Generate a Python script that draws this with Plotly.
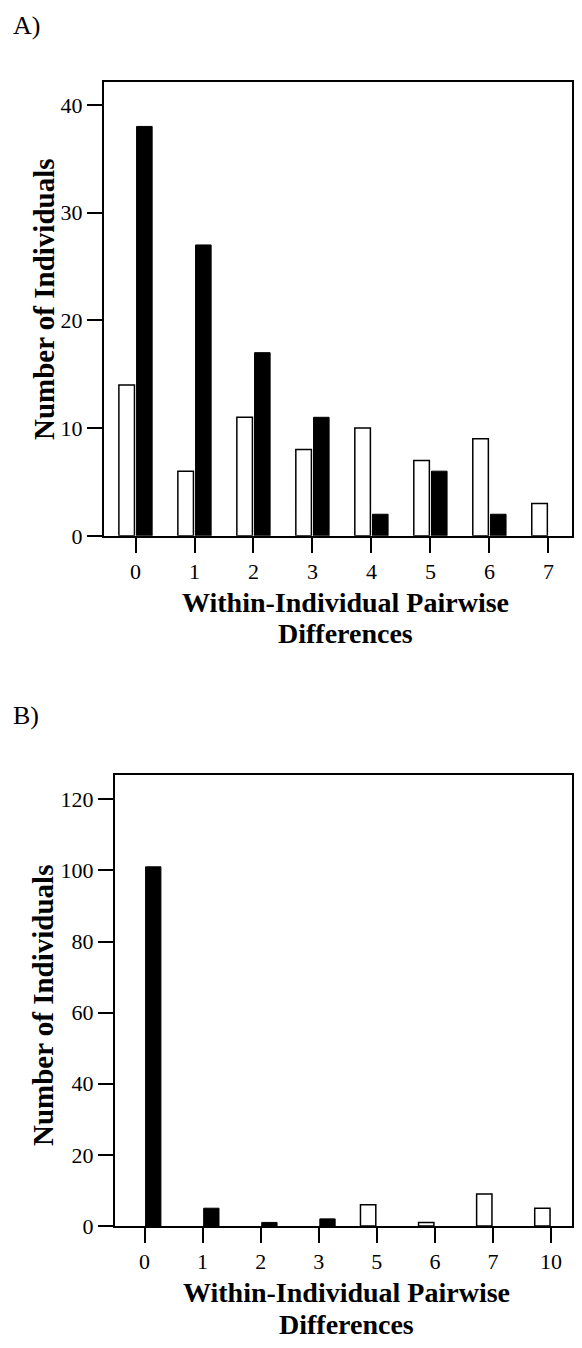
import plotly.graph_objects as go

# Panel A data
cats_a = ["0", "1", "2", "3", "4", "5", "6", "7"]
white_a = [14, 6, 11, 8, 10, 7, 9, 3]
black_a = [38, 27, 17, 11, 2, 6, 2, 0]

# Panel B data
cats_b = ["0", "1", "2", "3", "5", "6", "7", "10"]
white_b = [0, 0, 0, 0, 6, 1, 9, 5]
black_b = [101, 5, 1, 2, 0, 0, 0, 0]

# page body has an 8px default margin; keep the page within the window
OFF = 8
W, H = 582 - 2 * OFF, 1348 - 2 * OFF
FONT = "Liberation Serif"

def px(x):
    return (x - OFF) / W

def py(y):
    return 1 - (y - OFF) / H

def nz(vals):
    return [v if v != 0 else None for v in vals]

fig = go.Figure()

white_style = dict(marker=dict(color="white", line=dict(color="black", width=1.5)), showlegend=False)
black_style = dict(marker=dict(color="black", line=dict(color="black", width=1)), showlegend=False)

fig.add_trace(go.Bar(x=cats_a, y=nz(white_a), xaxis="x", yaxis="y", **white_style))
fig.add_trace(go.Bar(x=cats_a, y=nz(black_a), xaxis="x", yaxis="y", **black_style))
fig.add_trace(go.Bar(x=cats_b, y=nz(white_b), xaxis="x2", yaxis="y2", **white_style))
fig.add_trace(go.Bar(x=cats_b, y=nz(black_b), xaxis="x2", yaxis="y2", **black_style))

axis_common = dict(
    showgrid=False, zeroline=False, showline=True, linecolor="black", linewidth=1.5,
    mirror=True, ticks="outside", tickcolor="black", tickwidth=1.5,
    tickfont=dict(family=FONT, size=22, color="black"),
)

fig.update_layout(
    width=W, height=H,
    margin=dict(l=0, r=0, t=0, b=0),
    plot_bgcolor="white", paper_bgcolor="white",
    barmode="group", bargap=0.4, bargroupgap=0.12,
    xaxis=dict(domain=[px(104), 1.0], anchor="y", type="category",
               range=[-0.54, 7.40], ticklen=15, **axis_common),
    yaxis=dict(domain=[py(541), py(83)], anchor="x", range=[0, 42.1],
               tickvals=[0, 10, 20, 30, 40], ticklen=15, **axis_common),
    xaxis2=dict(domain=[px(115), 1.0], anchor="y2", type="category",
                range=[-0.515, 7.36], ticklen=15, **axis_common),
    yaxis2=dict(domain=[py(1238), py(783)], anchor="x2", range=[0, 126.7],
                tickvals=[0, 20, 40, 60, 80, 100, 120], ticklen=15, **axis_common),
)

xt_font = dict(family=FONT, size=28, color="black")
yt_font = dict(family=FONT, size=29, color="black")
ann = [
    dict(text="A)", x=px(11), y=py(26), xanchor="left", yanchor="middle",
         font=dict(family=FONT, size=26, color="black")),
    dict(text="B)", x=px(11), y=py(722), xanchor="left", yanchor="middle",
         font=dict(family=FONT, size=26, color="black")),
    dict(text="<b>Number of Individuals</b>", x=px(44), y=py(302), textangle=-90,
         xanchor="center", yanchor="middle", font=yt_font),
    dict(text="<b>Number of Individuals</b>", x=px(43), y=py(1015), textangle=-90,
         xanchor="center", yanchor="middle", font=yt_font),
    dict(text="<b>Within-Individual Pairwise</b>", x=px(347), y=py(608),
         xanchor="center", yanchor="middle", font=xt_font),
    dict(text="<b>Differences</b>", x=px(347), y=py(640),
         xanchor="center", yanchor="middle", font=xt_font),
    dict(text="<b>Within-Individual Pairwise</b>", x=px(348), y=py(1305),
         xanchor="center", yanchor="middle", font=xt_font),
    dict(text="<b>Differences</b>", x=px(348), y=py(1337),
         xanchor="center", yanchor="middle", font=xt_font),
]
for a in ann:
    a.update(xref="paper", yref="paper", showarrow=False)
fig.update_layout(annotations=ann)

fig.write_html("out.html")
